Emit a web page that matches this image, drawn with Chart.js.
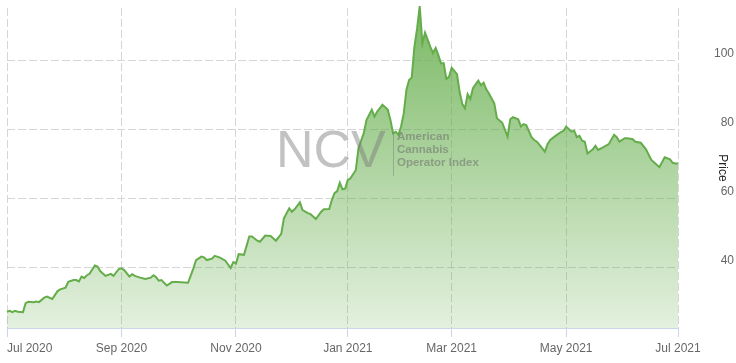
<!DOCTYPE html>
<html>
<head>
<meta charset="utf-8">
<script src="https://cdn.jsdelivr.net/npm/chart.js@4.4.1/dist/chart.umd.min.js"></script>
<style>
  html, body { margin: 0; padding: 0; background: #fff; }
</style>
</head>
<body>
<canvas id="priceChart" width="736" height="363"></canvas>
<script>
// trading session number since 1 Jul 2020, and index price
var sessions = [
  0, 1, 2, 3, 4, 6, 7, 8, 10, 11,
  12, 14, 15, 17, 19, 20, 22, 23, 25, 26,
  27, 28, 29, 30, 31, 33, 34, 35, 37, 39,
  40, 42, 43, 44, 46, 47, 48, 50, 52, 54,
  55, 56, 57, 58, 60, 61, 62, 64, 68, 70,
  71, 73, 74, 75, 77, 78, 80, 82, 84, 85,
  86, 87, 89, 91, 92, 94, 95, 97, 99, 101,
  103, 104, 106, 107, 108, 110, 111, 113, 114, 116,
  118, 119, 121, 122, 123, 124, 125, 126, 127, 128,
  129, 131, 132, 134, 135, 137, 138, 139, 141, 143,
  144, 145, 146, 147, 148, 149, 150, 151, 152, 153,
  154, 155, 156, 157, 159, 160, 161, 162, 163, 164,
  165, 166, 167, 169, 170, 171, 172, 173, 174, 175,
  176, 177, 178, 179, 180, 181, 183, 184, 186, 188,
  189, 190, 192, 193, 194, 195, 197, 198, 199, 200,
  202, 203, 204, 206, 208, 209, 210, 212, 213, 214,
  215, 216, 217, 218, 220, 221, 222, 224, 226, 228,
  229, 230, 232, 233, 235, 236, 238, 240, 241, 242,
  244, 245, 247, 249, 250, 251, 252
];
var prices = [
  27.3, 27.6, 27.2, 27.6, 27.3, 27.2, 29.8, 30.2, 30.1, 30.3,
  30.1, 31.4, 31.7, 31.0, 33.3, 33.8, 34.3, 36.0, 36.5, 36.5,
  36.1, 37.5, 37.1, 37.9, 38.3, 40.7, 40.4, 39.1, 37.7, 38.3,
  37.7, 39.7, 39.9, 39.4, 37.5, 38.2, 37.7, 37.2, 36.8, 37.2,
  37.9, 37.3, 36.3, 36.5, 34.9, 35.4, 35.9, 35.9, 35.7, 39.9,
  42.3, 43.3, 43.1, 42.3, 42.7, 43.5, 43.0, 42.1, 40.0, 41.7,
  41.3, 44.0, 43.8, 49.1, 49.1, 47.9, 47.6, 49.4, 49.3, 47.9,
  49.9, 54.4, 57.3, 56.3, 57.0, 59.0, 56.8, 55.9, 55.6, 54.2,
  56.3, 57.0, 57.1, 59.7, 61.7, 62.3, 64.7, 62.8, 63.0, 65.5,
  66.0, 68.4, 74.7, 79.1, 82.9, 85.9, 83.9, 85.3, 87.3, 85.9,
  82.9, 79.0, 79.5, 78.6, 81.0, 84.8, 91.6, 94.5, 95.2, 104.1,
  109.3, 115.9, 105.1, 108.2, 104.1, 102.3, 103.8, 101.7, 99.3, 99.4,
  94.8, 95.4, 98.0, 96.2, 91.0, 87.5, 86.3, 90.4, 89.0, 92.1,
  93.2, 94.3, 93.0, 93.7, 91.8, 90.6, 87.7, 83.4, 82.1, 78.1,
  83.1, 83.7, 83.1, 81.0, 81.7, 81.4, 77.9, 77.1, 76.6, 75.7,
  73.7, 75.9, 77.1, 78.3, 79.4, 79.7, 81.0, 79.5, 79.8, 77.9,
  78.3, 76.9, 76.6, 73.2, 74.4, 75.4, 74.2, 75.0, 75.9, 78.6,
  77.9, 76.6, 77.6, 77.6, 77.3, 76.6, 76.3, 74.4, 72.8, 71.3,
  69.9, 69.2, 72.1, 71.5, 70.5, 70.3, 70.3
];
var monthSessions = [0, 43, 86, 128, 167, 210, 252];
var monthLabels = ['Jul 2020', 'Sep 2020', 'Nov 2020', 'Jan 2021', 'Mar 2021', 'May 2021', 'Jul 2021'];
var priceTicks = [40, 60, 80, 100];

var fontFamily = '"Liberation Sans", Arial, sans-serif';
var lineColor = '#64ad4a';

// Highcharts-like: first month label starts at the tick instead of centring on it
var edgeLabel = {
  id: 'edgeLabel',
  beforeDraw: function(chart) {
    var items = chart.scales.x.getLabelItems();
    if (items.length) items[0].options.textAlign = 'left';
  }
};

// NCV logo watermark
var watermark = {
  id: 'watermark',
  afterDatasetsDraw: function(chart) {
    var c = chart.ctx;
    c.save();
    c.textBaseline = 'alphabetic';
    c.textAlign = 'left';
    c.fillStyle = 'rgba(120,120,120,0.45)';
    c.font = '52px ' + fontFamily;
    c.fillText('NCV', 276, 167);
    c.strokeStyle = 'rgba(120,120,120,0.45)';
    c.lineWidth = 1;
    c.beginPath();
    c.moveTo(393.5, 132);
    c.lineTo(393.5, 176);
    c.stroke();
    c.fillStyle = 'rgba(110,110,110,0.55)';
    c.font = 'bold 11.5px ' + fontFamily;
    c.fillText('American', 397, 140);
    c.fillText('Cannabis', 397, 153);
    c.fillText('Operator Index', 397, 166);
    c.restore();
  }
};

new Chart(document.getElementById('priceChart').getContext('2d'), {
  type: 'line',
  data: {
    datasets: [{
      label: 'Price',
      data: sessions.map(function(s, i) { return {x: s, y: prices[i]}; }),
      borderColor: lineColor,
      borderWidth: 2,
      pointRadius: 0,
      tension: 0,
      fill: 'start',
      clip: false,
      backgroundColor: function(ctx) {
        var area = ctx.chart.chartArea;
        if (!area) return 'rgba(100,173,74,0.5)';
        var g = ctx.chart.ctx.createLinearGradient(0, area.top, 0, area.bottom);
        g.addColorStop(0, 'rgba(100,173,74,0.85)');
        g.addColorStop(1, 'rgba(100,173,74,0.18)');
        return g;
      }
    }]
  },
  options: {
    responsive: false,
    animation: false,
    layout: { padding: { left: 7, top: 8, right: 2, bottom: 0 } },
    plugins: {
      legend: { display: false },
      tooltip: { enabled: false }
    },
    scales: {
      x: {
        type: 'linear',
        min: 0,
        max: 252,
        afterBuildTicks: function(s) {
          s.ticks = monthSessions.map(function(v) { return {value: v}; });
        },
        afterFit: function(s) {
          s.height = 35;
          s.paddingLeft = 0;
          s.paddingRight = 0;
        },
        grid: {
          color: '#d6d6d6',
          lineWidth: 1,
          drawTicks: true,
          tickLength: 9,
          tickColor: '#ccd6eb',
          tickBorderDash: []
        },
        border: { display: true, color: '#ccd6eb', dash: [8, 3] },
        ticks: {
          color: '#666666',
          font: { family: fontFamily, size: 12 },
          padding: 4,
          maxRotation: 0,
          autoSkip: false,
          callback: function(v) {
            var i = monthSessions.indexOf(v);
            return i >= 0 ? monthLabels[i] : '';
          }
        }
      },
      y: {
        position: 'right',
        min: 22.6,
        max: 115.36,
        afterBuildTicks: function(s) {
          s.ticks = priceTicks.map(function(v) { return {value: v}; });
        },
        afterFit: function(s) {
          s.width = 56;
          s.paddingTop = 0;
          s.paddingBottom = 0;
        },
        grid: { color: '#d6d6d6', lineWidth: 1, drawTicks: false },
        border: { display: false, dash: [8, 3] },
        ticks: {
          color: '#666666',
          font: { family: fontFamily, size: 12 },
          padding: 6,
          crossAlign: 'far',
          labelOffset: -7
        },
        title: {
          display: true,
          text: 'Price',
          color: '#222222',
          font: { family: fontFamily, size: 12 },
          padding: 4
        }
      }
    }
  },
  plugins: [edgeLabel, watermark]
});
</script>
</body>
</html>
